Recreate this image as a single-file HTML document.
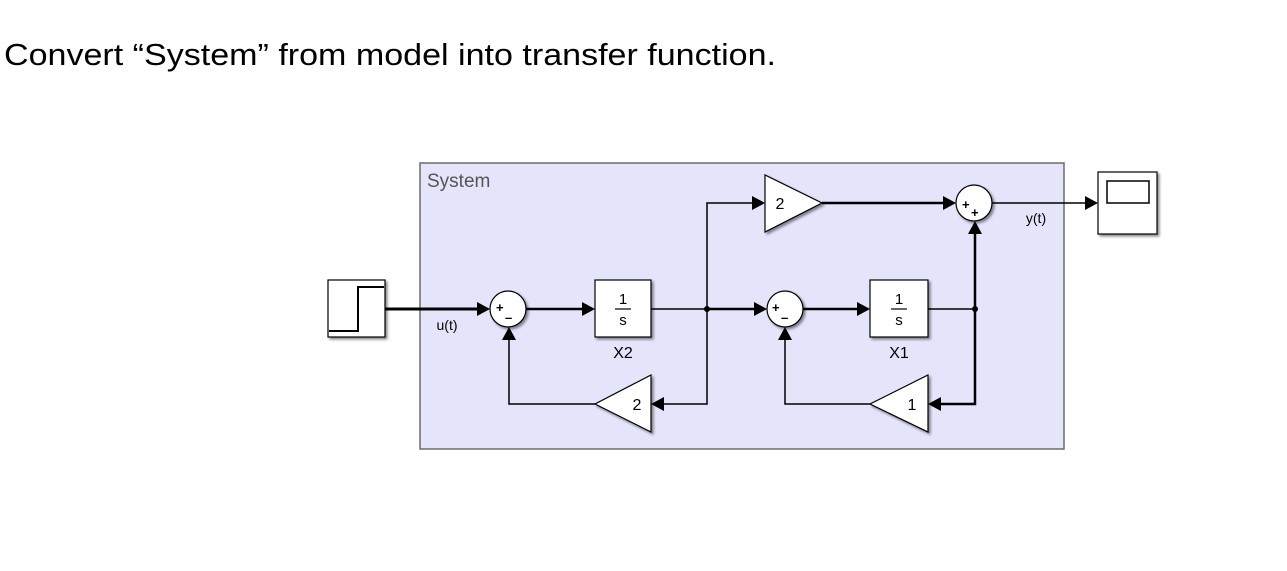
<!DOCTYPE html>
<html><head><meta charset="utf-8"><style>
html,body{margin:0;padding:0;background:#fff;width:1287px;height:571px;overflow:hidden}
</style></head><body>
<svg width="1287" height="571" viewBox="0 0 1287 571" xmlns="http://www.w3.org/2000/svg" font-family="Liberation Sans, sans-serif">
<defs>
<filter id="sh" x="-20%" y="-20%" width="150%" height="150%"><feDropShadow dx="2" dy="2" stdDeviation="1.2" flood-color="#000" flood-opacity="0.45"/></filter>
</defs>
<text x="4" y="65" font-size="31" textLength="772" lengthAdjust="spacingAndGlyphs" fill="#000">Convert “System” from model into transfer function.</text>

<rect x="420" y="163" width="644" height="286" fill="#e4e4fa" stroke="#6b6b6b" stroke-width="1.5"/>
<text x="427" y="187" font-size="19" fill="#555">System</text>

<g stroke="#000" fill="none">
<!-- step -> sum1 -->
<line x1="385" y1="309" x2="478" y2="309" stroke-width="3"/>
<!-- sum1 -> X2 -->
<line x1="526" y1="309" x2="583" y2="309" stroke-width="2.5"/>
<!-- X2 out to junction -->
<line x1="651" y1="309" x2="707" y2="309" stroke-width="1.5"/>
<line x1="707" y1="309" x2="755" y2="309" stroke-width="2.5"/>
<!-- up to gain top -->
<polyline points="707,309 707,203 753,203" stroke-width="1.5"/>
<!-- down to gain bottom -->
<polyline points="707,309 707,404 663,404" stroke-width="1.5"/>
<!-- gain2 bottom -> sum1 -->
<polyline points="595,404 509,404 509,339" stroke-width="1.5"/>
<!-- gain top -> sum3 -->
<line x1="822" y1="203" x2="944" y2="203" stroke-width="2.5"/>
<!-- sum2 -> X1 -->
<line x1="803" y1="309" x2="858" y2="309" stroke-width="2.5"/>
<!-- X1 out -->
<line x1="928" y1="309" x2="975" y2="309" stroke-width="1.5"/>
<line x1="975" y1="309" x2="975" y2="233" stroke-width="2.5"/>
<polyline points="975,309 975,404 940,404" stroke-width="2.5"/>
<!-- gain1 -> sum2 -->
<polyline points="870,404 785,404 785,339" stroke-width="1.5"/>
<!-- sum3 -> scope -->
<line x1="992" y1="203" x2="1086" y2="203" stroke-width="1.5"/>
</g>

<g fill="#000">
<polygon points="490,309 477,302 477,316"/>
<polygon points="595,309 582,302 582,316"/>
<polygon points="767,309 754,302 754,316"/>
<polygon points="870,309 857,302 857,316"/>
<polygon points="765,203 752,196 752,210"/>
<polygon points="956,203 943,196 943,210"/>
<polygon points="1098,203 1085,196 1085,210"/>
<polygon points="509,327 502,340 516,340"/>
<polygon points="785,327 778,340 792,340"/>
<polygon points="975,221 968,234 982,234"/>
<polygon points="651,404 664,397 664,411"/>
<polygon points="928,404 941,397 941,411"/>
<circle cx="707" cy="309" r="3"/>
<circle cx="975" cy="309" r="3"/>
</g>

<g filter="url(#sh)" fill="#fff" stroke="#000" stroke-width="1.2">
<!-- step -->
<rect x="328" y="280" width="57" height="57"/>
<!-- integrators -->
<rect x="595" y="280" width="56" height="57"/>
<rect x="870" y="280" width="58" height="57"/>
<!-- scope -->
<rect x="1098" y="172" width="59" height="62"/>
<!-- sums -->
<circle cx="508" cy="309" r="18"/>
<circle cx="785" cy="309" r="18"/>
<circle cx="974" cy="203" r="18"/>
<!-- gains -->
<polygon points="765,175 765,232 822,203"/>
<polygon points="651,375 651,432 595,404"/>
<polygon points="928,375 928,432 870,404"/>
</g>

<polyline points="329,331 358,331 358,287 384,287" fill="none" stroke="#000" stroke-width="2"/>
<rect x="1107" y="181" width="42" height="22" fill="none" stroke="#000" stroke-width="1.5"/>

<g font-size="15" fill="#000" text-anchor="middle">
<text x="623" y="304">1</text>
<line x1="615" y1="309" x2="631" y2="309" stroke="#000" stroke-width="1.2"/>
<text x="623" y="325">s</text>
<text x="899" y="304">1</text>
<line x1="891" y1="309" x2="907" y2="309" stroke="#000" stroke-width="1.2"/>
<text x="899" y="325">s</text>
<text x="623" y="358" font-size="16">X2</text>
<text x="899" y="358" font-size="16">X1</text>
<text x="780" y="209" font-size="16">2</text>
<text x="637" y="410" font-size="16">2</text>
<text x="912" y="410" font-size="16">1</text>
<text x="447" y="330" font-size="14">u(t)</text>
<text x="1036" y="223" font-size="14">y(t)</text>
</g>
<g font-size="13" font-weight="bold" fill="#000">
<text x="496" y="312">+</text><text x="505" y="322">–</text>
<text x="772" y="312">+</text><text x="781" y="322">–</text>
<text x="962" y="209">+</text><text x="971" y="217">+</text>
</g>
</svg>
</body></html>
